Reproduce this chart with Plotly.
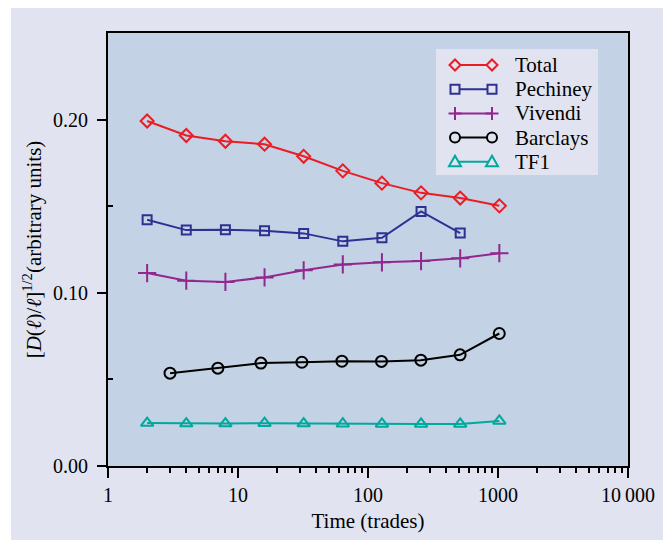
import plotly.graph_objects as go

# ---- data ----
x_pow2 = [2, 4, 8, 16, 32, 64, 128, 256, 512, 1024]
x_pech = [2, 4, 8, 16, 32, 64, 128, 256, 512]
x_barc = [3, 7, 15, 31, 63, 127, 255, 511, 1023]

total = [0.1992, 0.1908, 0.1875, 0.1858, 0.1788, 0.1704, 0.1633, 0.1577, 0.1547, 0.1502]
pechiney = [0.1422, 0.1362, 0.1364, 0.1358, 0.1343, 0.1297, 0.1318, 0.1470, 0.1345]
vivendi = [0.1114, 0.1070, 0.1063, 0.1089, 0.1130, 0.1164, 0.1176, 0.1183, 0.1199, 0.1229]
barclays = [0.0536, 0.0565, 0.0594, 0.0599, 0.0605, 0.0604, 0.0611, 0.0642, 0.0765]
tf1 = [0.0248, 0.0245, 0.0245, 0.0247, 0.0245, 0.0244, 0.0243, 0.0243, 0.0243, 0.0260]

series = [
    ("Total", x_pow2, total, "#ec1c24", "diamond-open", 10),
    ("Pechiney", x_pech, pechiney, "#2e3192", "square-open", 9),
    ("Vivendi", x_pow2, vivendi, "#92278f", "cross-thin-open", 13),
    ("Barclays", x_barc, barclays, "#000000", "circle-open", 11),
    ("TF1", x_pow2, tf1, "#00a99d", "triangle-up-open", 11),
]

x_tickvals = [1, 10, 100, 1000, 10000]
x_ticktext = ["1", "10", "100", "1000", "10\u2009000"]
x_minor = [m * 10 ** k for k in range(4) for m in range(2, 10)]
y_tickvals = [0.0, 0.1, 0.2]
y_ticktext = ["0.00", "0.10", "0.20"]

FONT = "Liberation Serif"

fig = go.Figure()
for name, xs, ys, col, sym, sz in series:
    fig.add_trace(go.Scatter(
        x=xs, y=ys, name=name, mode="lines+markers", showlegend=False,
        line=dict(color=col, width=2),
        marker=dict(symbol=sym, size=sz, color=col, line=dict(color=col, width=2)),
    ))

# page has an 8px body margin: figure pixel = reference pixel - 8
OFF = 8
W, H = 664, 533
L, T = 108 - OFF, 33 - OFF
R = W - (628 - OFF)
B = H - (466 - OFF)
pw, ph = W - L - R, H - T - B

def px2x(p):
    return (p - OFF - L) / pw

def py2y(p):
    return (H - B - (p - OFF)) / ph

shapes = []
shapes.append(dict(type="rect", xref="paper", yref="paper",
                   x0=px2x(11), x1=px2x(663), y0=py2y(540), y1=py2y(0),
                   fillcolor="#e1e4f0", line=dict(width=0), layer="below"))
shapes.append(dict(type="rect", xref="paper", yref="paper",
                   x0=0, x1=1, y0=0, y1=1,
                   fillcolor="#c3d2e4", line=dict(width=0), layer="below"))

# ---- manual legend (box, sample lines with end markers, labels) ----
shapes.append(dict(type="rect", xref="paper", yref="paper",
                   x0=px2x(436), x1=px2x(598), y0=py2y(175), y1=py2y(49),
                   fillcolor="#e1e4f0", line=dict(width=0), layer="above"))

def marker_path(kind, cx, cy):
    def P(x, y):
        return f"{px2x(x):.5f},{py2y(y):.5f}"
    if kind.startswith("diamond"):
        s = 5.5
        return f"M{P(cx - s, cy)} L{P(cx, cy - s)} L{P(cx + s, cy)} L{P(cx, cy + s)} Z"
    if kind.startswith("square"):
        s = 4.5
        return f"M{P(cx - s, cy - s)} L{P(cx + s, cy - s)} L{P(cx + s, cy + s)} L{P(cx - s, cy + s)} Z"
    if kind.startswith("cross"):
        s = 6.5
        return f"M{P(cx, cy - s)} L{P(cx, cy + s)} M{P(cx - s, cy)} L{P(cx + s, cy)}"
    if kind.startswith("triangle"):
        s = 6
        return f"M{P(cx - s, cy + 4.5)} L{P(cx + s, cy + 4.5)} L{P(cx, cy - 6)} Z"
    return ""

row_y = [65, 89.2, 113.4, 137.6, 161.8]
lx0, lx1, tx = 455, 492, 513
annotations = []
for (name, xs, ys, col, sym, sz), ry in zip(series, row_y):
    shapes.append(dict(type="line", xref="paper", yref="paper",
                       x0=px2x(lx0), x1=px2x(lx1), y0=py2y(ry), y1=py2y(ry),
                       line=dict(color=col, width=2), layer="above"))
    for cx in (lx0, lx1):
        if sym.startswith("circle"):
            r = 5
            shapes.append(dict(type="circle", xref="paper", yref="paper",
                               x0=px2x(cx - r), x1=px2x(cx + r),
                               y0=py2y(ry + r), y1=py2y(ry - r),
                               fillcolor="#e1e4f0", line=dict(color=col, width=2),
                               layer="above"))
        else:
            shapes.append(dict(type="path", xref="paper", yref="paper",
                               path=marker_path(sym, cx, ry),
                               fillcolor="#e1e4f0" if not sym.startswith("cross") else None,
                               line=dict(color=col, width=2), layer="above"))
    annotations.append(dict(xref="paper", yref="paper", x=px2x(tx), y=py2y(ry),
                            xanchor="left", yanchor="middle", showarrow=False,
                            text=name, font=dict(family=FONT, size=21, color="black")))

fig.update_layout(
    width=W, height=H,
    margin=dict(l=L, r=R, t=T, b=B),
    paper_bgcolor="white",
    plot_bgcolor="rgba(0,0,0,0)",
    font=dict(family=FONT, size=20, color="black"),
    showlegend=False,
    shapes=shapes,
    annotations=annotations,
)

fig.update_xaxes(
    type="log", range=[0, 4],
    tickmode="array", tickvals=x_tickvals, ticktext=x_ticktext,
    ticks="outside", ticklen=10, tickwidth=1.5, tickcolor="black",
    minor=dict(tickmode="array", tickvals=x_minor, ticks="outside",
               ticklen=5, tickwidth=1.5, tickcolor="black", showgrid=False),
    showgrid=False, zeroline=False,
    showline=True, linecolor="black", linewidth=2, mirror=True,
    title=dict(text="Time (trades)", font=dict(size=21), standoff=8),
    tickfont=dict(size=20),
)
fig.update_yaxes(
    range=[0, 0.25],
    tickmode="array", tickvals=y_tickvals, ticktext=y_ticktext,
    ticks="outside", ticklen=9, tickwidth=1.5, tickcolor="black",
    ticklabelstandoff=5,
    minor=dict(tickmode="array", tickvals=[0.05, 0.15], ticks="inside",
               ticklen=5, tickwidth=1.5, tickcolor="black", showgrid=False),
    showgrid=False, zeroline=False,
    showline=True, linecolor="black", linewidth=2, mirror=True,
    title=dict(text="[<i>D</i>(<i>\u2113</i>)/<i>\u2113</i>]<sup>1/2</sup>(arbitrary units)",
               font=dict(size=21), standoff=6),
    tickfont=dict(size=20),
)

fig.write_html("out.html")
